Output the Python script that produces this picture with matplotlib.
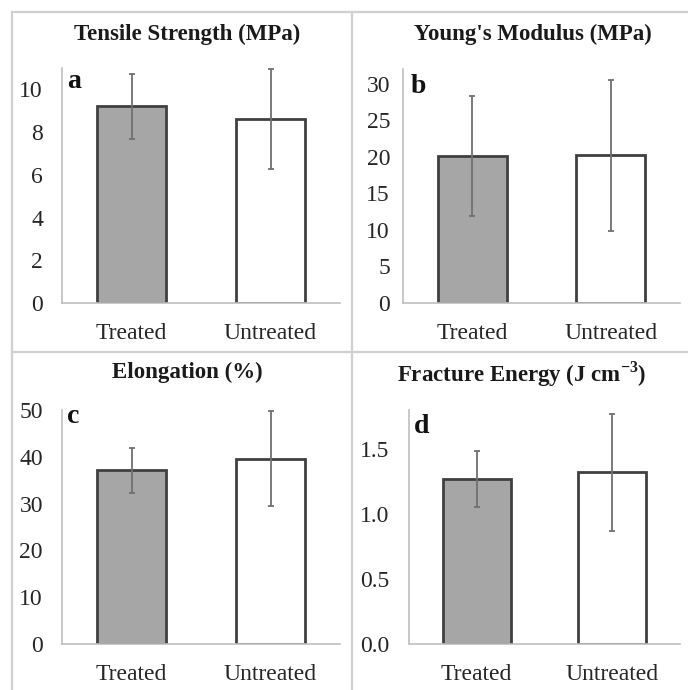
import matplotlib
matplotlib.use("Agg")
import matplotlib.pyplot as plt
from matplotlib.lines import Line2D

plt.rcParams['font.family'] = ['Liberation Serif', 'DejaVu Serif']
plt.rcParams['mathtext.fontset'] = 'custom'
plt.rcParams['mathtext.rm'] = 'Liberation Serif'
plt.rcParams['mathtext.bf'] = 'Liberation Serif:bold'

categories = ["Treated", "Untreated"]

titles = ["Tensile Strength (MPa)", "Young's Modulus (MPa)",
          "Elongation (%)", r"Fracture Energy (J cm$^{\mathbf{-3}}$)"]
letters = ["a", "b", "c", "d"]

tensile_mean = [9.2, 8.6]
tensile_err = [1.5, 2.35]
modulus_mean = [20.1, 20.2]
modulus_err = [8.2, 10.3]
elong_mean = [37.1, 39.6]
elong_err = [4.8, 10.2]
energy_mean = [1.27, 1.32]
energy_err = [0.215, 0.45]

means = [tensile_mean, modulus_mean, elong_mean, energy_mean]
errs = [tensile_err, modulus_err, elong_err, energy_err]
ylims = [11, 32, 50, 1.8]
yticks = [[0, 2, 4, 6, 8, 10], [0, 5, 10, 15, 20, 25, 30],
          [0, 10, 20, 30, 40, 50], [0.0, 0.5, 1.0, 1.5]]
ytick_fmt = ["{:.0f}", "{:.0f}", "{:.0f}", "{:.1f}"]

W, H = 688, 690
fig = plt.figure(figsize=(W / 100, H / 100), dpi=100)

# axes boxes in pixels: left, top, right, bottom
boxes = [(62, 68, 340, 303), (403, 69, 680, 303),
         (62, 410, 340, 644), (409, 410, 680, 644)]
ypads = [19, 13, 19, 20]
title_pos = [(187, 34), (533, 34), (187, 372), (522, 374)]
letter_pos = [(67, 88), (411, 93), (67, 423), (414, 433)]

fill_colors = ["#A6A6A6", "#FFFFFF"]
edge_color = "#404040"
text_color = "#262626"

for i in range(4):
    l, t, r, b = boxes[i]
    ax = fig.add_axes([l / W, 1 - b / H, (r - l) / W, (b - t) / H])
    x = list(range(len(categories)))
    ax.bar(x, means[i], width=0.5, color=fill_colors, edgecolor=edge_color,
           linewidth=2.0, zorder=2)
    ax.errorbar(x, means[i], yerr=errs[i], fmt='none', ecolor="#707070",
                elinewidth=1.3, capsize=2.5, capthick=1.3, zorder=3)
    ax.set_xlim(-0.5, 1.5)
    ax.set_ylim(0, ylims[i])
    ax.set_yticks(yticks[i])
    ax.set_yticklabels([ytick_fmt[i].format(v) for v in yticks[i]])
    ax.set_xticks(x)
    ax.set_xticklabels(categories)
    for s in ["top", "right"]:
        ax.spines[s].set_visible(False)
    for s in ["left", "bottom"]:
        ax.spines[s].set_color("#BFBFBF")
        ax.spines[s].set_linewidth(1.2)
    ax.tick_params(axis='y', length=0, pad=ypads[i] * 0.72, labelsize=17,
                   labelcolor=text_color)
    ax.tick_params(axis='x', length=0, pad=14.5, labelsize=17,
                   labelcolor=text_color)

    tx, ty = title_pos[i]
    fig.text(tx / W, 1 - ty / H, titles[i], ha='center', va='center',
             fontsize=16.5, fontweight='bold', color="#1a1a1a")
    lx, ly = letter_pos[i]
    fig.text(lx / W, 1 - ly / H, letters[i], ha='left', va='baseline',
             fontsize=20, fontweight='bold', color="#111111")

# panel border lines
border = "#D0D0D0"
lines = [((12, 688), (12, 12)), ((12, 12), (12, 690)),
         ((352, 352), (12, 690)), ((12, 688), (352, 352))]
for xs, ys in lines:
    fig.add_artist(Line2D([v / W for v in xs], [1 - v / H for v in ys],
                          color=border, linewidth=1.6))

fig.savefig("out.png", dpi=100)
